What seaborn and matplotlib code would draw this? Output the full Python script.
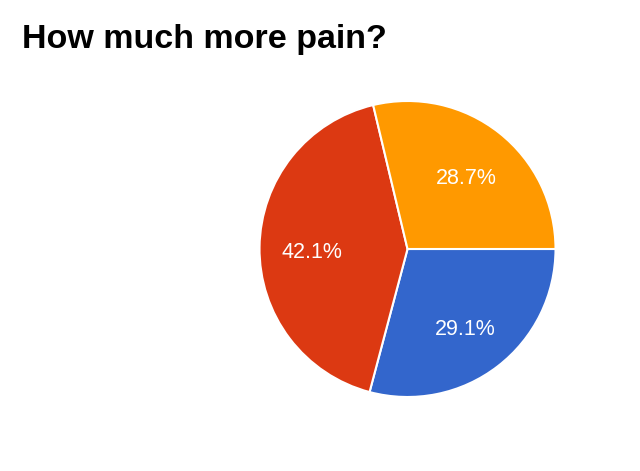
import matplotlib
matplotlib.use("Agg")
import matplotlib.pyplot as plt
import seaborn as sns

# slice data, clockwise from 3 o'clock
labels = ["Blue", "Red", "Orange"]
shares = [29.1, 42.1, 28.7]
colors = ["#3366cc", "#dc3912", "#ff9900"]

sns.set_style("white")
plt.rcParams['font.family'] = ['Liberation Sans', 'DejaVu Sans']

fig = plt.figure(figsize=(6.4, 4.71), dpi=100)
ax = fig.add_axes([0.4055, 0.1571, 0.4625, 0.6285])

wedges, texts, autotexts = ax.pie(
    shares, colors=colors, startangle=0, counterclock=False,
    autopct='%1.1f%%', pctdistance=0.645, radius=1,
    wedgeprops={'edgecolor': 'white', 'linewidth': 1.5, 'clip_on': False},
    textprops={'color': 'white', 'fontsize': 15.5},
)
# nudge percentage labels down a touch, like the original renderer
for t in autotexts:
    x, y = t.get_position()
    t.set_position((x, y - 0.032))
ax.set_xlim(-1, 1)
ax.set_ylim(-1, 1)
ax.axis('off')

fig.text(22 / 640, 0.898, "How much more pain?", fontsize=24.5,
         fontweight='bold', ha='left', va='baseline', color='black')

fig.savefig("out.png", dpi=100)
